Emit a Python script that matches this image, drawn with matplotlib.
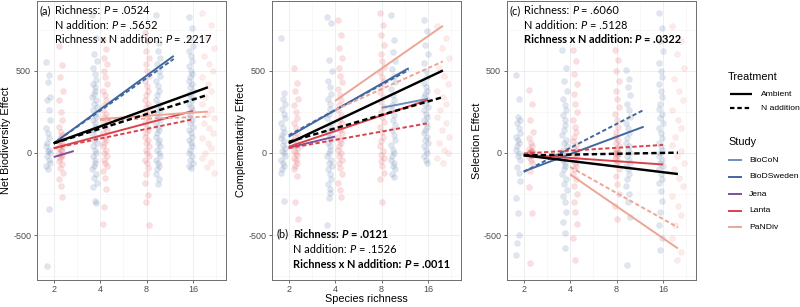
import matplotlib
matplotlib.use('Agg')
import matplotlib.pyplot as plt
from matplotlib.lines import Line2D
from matplotlib.colors import to_rgba

plt.rcParams['axes.unicode_minus'] = False
plt.rcParams['font.family'] = ['Liberation Sans', 'DejaVu Sans']

W, H = 800, 307
fig = plt.figure(figsize=(W / 100, H / 100), dpi=100)

# ---------------- data ----------------
studies = ['BioCoN', 'BioDSweden', 'Jena', 'Lanta', 'PaNDiv']
study_colors = {'BioCoN': '#6b8fc2', 'BioDSweden': '#41679f', 'Jena': '#7d4f9d',
                'Lanta': '#d9424b', 'PaNDiv': '#eda596', 'All': '#000000'}
treatments = ['Ambient', 'N addition']
richness_ticks = [2, 4, 8, 16]
y_ticks = [-500, 0, 500]

# column centres of the jittered point clouds (species richness, by colour group)
blue_pos = [1.84, 3.68, 9.5, 15.5]
red_pos = [2.22, 4.3, 8.05, 20.0]

# Net biodiversity effect points
nbe_blue = {
    2: [555, 475, 433, 342, 323, 262, 200, 150, 120, 90, 60, 40, 20, 10, 0, -20, -40, -60, -80, -100, -340, -690],
    4: [840, 700, 600, 560, 520, 480, 445, 420, 400, 380, 360, 340, 320, 300, 280, 260, 240, 220, 200, 180, 160,
        140, 120, 100, 80, 60, 40, 20, 0, -20, -40, -60, -80, -100, -130, -150, -180, -210, -290, -305],
    8: [840, 670, 620, 580, 540, 500, 470, 440, 410, 380, 350, 320, 300, 280, 260, 240, 220, 200, 180, 160, 140,
        120, 100, 80, 60, 40, 20, 0, -20, -40, -60, -80, -100, -130, -160, -190],
    16: [830, 760, 700, 650, 620, 590, 560, 530, 500, 480, 460, 440, 420, 400, 380, 360, 340, 320, 300, 280, 260,
         240, 220, 200, 180, 160, 140, 120, 100, 80, 60, 40, 20, 0, -20, -40, -60, -80, -92],
}
nbe_red = {
    2: [650, 537, 464, 380, 323, 250, 200, 160, 130, 110, 90, 70, 60, 50, 40, 30, 20, 10, 0, -10, -20, -30, -50,
        -70, -90, -120, -160, -200, -268],
    4: [690, 630, 580, 540, 500, 460, 420, 380, 350, 320, 290, 260, 240, 220, 200, 180, 160, 140, 120, 100, 80, 60,
        40, 20, 0, -20, -40, -60, -80, -110, -150, -220, -330, -433],
    8: [730, 680, 620, 580, 540, 500, 470, 440, 410, 380, 350, 320, 300, 280, 260, 240, 220, 200, 180, 160, 140,
        120, 100, 80, 60, 40, 20, 0, -20, -40, -60, -90, -130, -180, -256, -300, -440],
    16: [850, 780, 700, 640, 590, 540, 500, 460, 420, 380, 340, 300, 270, 240, 210, 180, 150, 120, 90, 60, 30, 0,
         -30, -55, -85, -120],
}
# Complementarity effect points
ce_blue = {
    2: [700, 365, 330, 300, 270, 240, 210, 180, 150, 130, 110, 90, 70, 50, 30, 10, 0, -20, -40, -60, -80, -100,
        -122, -290],
    4: [830, 790, 567, 500, 440, 400, 360, 330, 300, 270, 240, 210, 180, 160, 140, 120, 100, 80, 60, 40, 20, 0,
        -20, -40, -60, -80, -100, -130, -160, -190, -220, -244, -275, -440],
    8: [840, 690, 616, 560, 510, 470, 430, 390, 350, 320, 290, 260, 230, 200, 170, 140, 110, 80, 50, 20, 0, -20,
        -40, -60, -80, -100, -125, -146],
    16: [810, 740, 660, 600, 550, 500, 460, 427, 400, 380, 360, 340, 320, 300, 280, 260, 240, 220, 200, 180, 160,
         140, 120, 100, 80, 60, 40, 20, 0, -20, -40, -60],
}
ce_red = {
    2: [518, 427, 380, 330, 290, 250, 210, 180, 150, 120, 100, 80, 60, 45, 30, 15, 0, -15, -30, -45, -60, -80,
        -100, -140, -300, -400],
    4: [810, 720, 640, 580, 520, 470, 430, 390, 350, 320, 290, 260, 230, 200, 180, 160, 140, 120, 100, 80, 60, 40,
        20, 0, -20, -40, -60, -90, -130, -180, -225, -270],
    8: [850, 780, 720, 660, 600, 560, 525, 490, 460, 430, 400, 370, 340, 310, 280, 250, 220, 190, 160, 130, 100,
        70, 40, 10, -10, -30, -50, -80, -120, -160, -300],
    16: [770, 700, 640, 580, 520, 470, 420, 380, 340, 300, 260, 220, 180, 140, 100, 60, 20, 0, -30, -60],
}
# Selection effect points
se_blue = {
    2: [475, 330, 220, 200, 180, 150, 120, 100, 80, 60, 40, 20, 0, -20, -43, -85, -120, -170, -275, -366, -500,
        -547, -622],
    4: [628, 520, 440, 380, 330, 290, 262, 230, 200, 170, 140, 110, 80, 60, 40, 20, 0, -20, -40, -60, -80, -100,
        -130, -160, -190, -226, -260, -300, -360, -420, -488, -580],
    8: [506, 450, 400, 350, 300, 260, 220, 180, 150, 120, 90, 60, 40, 20, 0, -20, -40, -60, -80, -100, -130, -160,
        -200, -250, -300, -390, -683],
    16: [854, 760, 680, 620, 549, 500, 460, 420, 380, 340, 300, 270, 240, 210, 180, 150, 120, 90, 60, 40, 20, 0,
         -20, -40, -60, -80, -100, -130, -160, -183, -230, -290, -360, -440, -520, -592],
}
se_red = {
    2: [384, 300, 200, 128, 90, 60, 40, 25, 15, 10, 5, 0, 0, 0, 0, -5, -10, -15, -25, -40, -60, -110, -207, -366,
        -670],
    4: [628, 560, 480, 420, 360, 300, 250, 200, 160, 130, 100, 75, 50, 30, 10, 0, -10, -25, -40, -60, -80, -100,
        -130, -160, -200, -250, -300, -360, -430, -520, -650],
    8: [628, 567, 500, 440, 380, 330, 280, 240, 200, 160, 130, 100, 80, 60, 40, 25, 10, 0, 0, 0, -10, -20, -35,
        -50, -70, -100, -140, -190, -250, -320, -400],
    16: [770, 680, 600, 520, 450, 380, 320, 260, 200, 150, 100, 50, 10, -20, -60, -100, -150, -200, -260, -320,
         -380, -440, -520, -600, -650],
}

# fitted lines: (study, treatment, richness start, richness end, fitted start, fitted end)
nbe_fits = [
    ('BioDSweden', 'Ambient', 2, 12, 59, 591),
    ('BioDSweden', 'N addition', 2, 12, 59, 572),
    ('Jena', 'Ambient', 2, 2.7, -25, 12),
    ('Lanta', 'Ambient', 2, 16, 29, 256),
    ('Lanta', 'N addition', 2, 16, 29, 205),
    ('PaNDiv', 'Ambient', 4, 20, 207, 252),
    ('PaNDiv', 'N addition', 4, 20, 200, 221),
    ('All', 'Ambient', 2, 20, 59, 400),
    ('All', 'N addition', 2, 20, 59, 354),
]
ce_fits = [
    ('BioCoN', 'Ambient', 8, 16, 275, 330),
    ('BioDSweden', 'Ambient', 2, 12, 99, 516),
    ('BioDSweden', 'N addition', 2, 12, 108, 505),
    ('Jena', 'Ambient', 2, 4, 32, 100),
    ('Lanta', 'Ambient', 2, 16, 38, 323),
    ('Lanta', 'N addition', 2, 16, 29, 181),
    ('PaNDiv', 'Ambient', 4, 20, 317, 774),
    ('PaNDiv', 'N addition', 4, 20, 262, 557),
    ('All', 'Ambient', 2, 20, 59, 502),
    ('All', 'N addition', 2, 20, 68, 340),
]
se_fits = [
    ('BioDSweden', 'Ambient', 2, 12, -112, 160),
    ('BioDSweden', 'N addition', 2, 12, -115, 262),
    ('Lanta', 'Ambient', 2, 16, -10, -70),
    ('Lanta', 'N addition', 2, 16, -3, 49),
    ('PaNDiv', 'Ambient', 4, 20, -130, -581),
    ('PaNDiv', 'N addition', 4, 20, -85, -453),
    ('All', 'Ambient', 2, 20, -14, -128),
    ('All', 'N addition', 2, 20, -15, 2),
]

ylabels = ['Net Biodiversity Effect', 'Complementarity Effect', 'Selection Effect']

# ---------------- styling ----------------
pt_blue = '#4b6fa5'
pt_red = '#e5474d'
pt_light = '#ee8a80'
jitter = [-0.045, 0.025, -0.01, 0.045, -0.03, 0.01, 0.035, -0.04, 0.0, 0.02, -0.02]

panel_left_px = [36.7, 271.7, 506.7]
panel_w_px = 189.0
panel_top_px, panel_bot_px = 1.0, 280.0
xlim = (2 ** 0.634, 2 ** 4.705)
ylim = (-773, 925)


def px2fig(x, y):
    return x / W, 1 - y / H


def draw_points(ax, pts, positions, colors, spreads):
    for (lvl, vals), pos, col, spr in zip(pts.items(), positions, colors, spreads):
        xs = [pos * 2 ** (jitter[i % len(jitter)] * spr) for i in range(len(vals))]
        ax.scatter(xs, vals, s=18, facecolor=to_rgba(col, 0.17), edgecolor=to_rgba(col, 0.10),
                   linewidth=0.5, zorder=2)


def draw_fits(ax, fits):
    order = studies + ['All']
    for st in order:
        for (s, tr, x0, x1, y0, y1) in fits:
            if s != st:
                continue
            lw = 1.75 if s == 'All' else 1.4
            ls = '-' if tr == 'Ambient' else (0, (2.2, 1.3))
            ax.plot([x0, x1], [y0, y1], color=study_colors[s], lw=lw, ls=ls,
                    solid_capstyle='butt', dash_capstyle='butt', zorder=3)


axes = []
panel_data = [(nbe_blue, nbe_red, nbe_fits), (ce_blue, ce_red, ce_fits), (se_blue, se_red, se_fits)]
for i, (blue, red, fits) in enumerate(panel_data):
    l, b = px2fig(panel_left_px[i], panel_bot_px)
    ax = fig.add_axes([l, b, panel_w_px / W, (panel_bot_px - panel_top_px) / H])
    ax.set_xscale('log', base=2)
    ax.set_xlim(*xlim)
    ax.set_ylim(*ylim)
    ax.set_xticks(richness_ticks)
    ax.set_xticklabels([str(t) for t in richness_ticks])
    ax.set_xticks([2 ** 1.5, 2 ** 2.5, 2 ** 3.5, 2 ** 4.5], minor=True)
    ax.set_yticks(y_ticks)
    ax.set_yticklabels([str(t) for t in y_ticks])
    ax.set_yticks([-750, -250, 250, 750], minor=True)
    ax.xaxis.set_minor_formatter(plt.NullFormatter())
    ax.grid(True, which='major', color='#ebebeb', lw=0.6, zorder=0)
    ax.grid(True, which='minor', color='#f4f4f4', lw=0.45, zorder=0)
    ax.set_axisbelow(True)
    ax.tick_params(which='major', length=2.0, width=0.5, color='#333333', labelsize=6.5,
                   labelcolor='#4d4d4d')
    ax.tick_params(axis='x', pad=1.6)
    ax.tick_params(axis='y', pad=2.0)
    ax.tick_params(which='minor', length=0)
    for sp in ax.spines.values():
        sp.set_color('#6e6e6e')
        sp.set_linewidth(0.7)
    draw_points(ax, blue, blue_pos, [pt_blue] * 4, [1, 1, 1, 1])
    draw_points(ax, red, red_pos, [pt_red, pt_red, pt_red, pt_light], [1, 1, 1, 3])
    draw_fits(ax, fits)
    axes.append(ax)

# axis titles
for i, lab in enumerate(ylabels):
    cx = [6.5, 241.5, 477.0][i]
    x, y = px2fig(cx, 140.5)
    fig.text(x, y, lab, rotation=90, ha='center', va='center', fontsize=7.8, color='black')
x, y = px2fig(366, 298.5)
fig.text(x, y, 'Species richness', ha='center', va='center', fontsize=7.8, color='black')

# ---------------- annotations ----------------
renderer = fig.canvas.get_renderer()
ann_font = ['Lato', 'DejaVu Sans']


def text_w(s, size, weight, style):
    t = fig.text(0, 0, s, fontsize=size, fontweight=weight, fontstyle=style, family=ann_font)
    w = t.get_window_extent(renderer).width
    t.remove()
    return w


def space_w(size, weight):
    return text_w('a a', size, weight, 'normal') - text_w('aa', size, weight, 'normal')


def rich(x_px, y_px, segs, size, draw=True):
    x = x_px
    for s, weight, style in segs:
        lead = len(s) - len(s.lstrip(' '))
        trail = len(s) - len(s.rstrip(' '))
        core = s.strip(' ')
        sw = space_w(size, weight)
        x += lead * sw
        if draw:
            fx, fy = px2fig(x, y_px)
            fig.text(fx, fy, core, fontsize=size, fontweight=weight, fontstyle=style,
                     family=ann_font, ha='left', va='baseline', color='black')
        x += text_w(core, size, weight, style)
        x += trail * sw
    return x - x_px


def pline(label, pval, bold):
    w = 'bold' if bold else 'normal'
    return [(label + ': ', w, 'normal'), ('P', w, 'italic'), (' = ' + pval, w, 'normal')]


ref = pline('Richness x N addition', '.2217', False)
ann_size = 10 * 156.0 / rich(0, 0, ref, 10, draw=False)

annotations = [
    ('(a)', 39.3, 55.0, [14.0, 28.6, 43.2],
     [('Richness', '.0524', False), ('N addition', '.5652', False), ('Richness x N addition', '.2217', False)]),
    ('(b)', 276.7, 293.3, [237.7, 252.7, 267.7],
     [('Richness', '.0121', True), ('N addition', '.1526', False), ('Richness x N addition', '.0011', True)]),
    ('(c)', 509.0, 524.0, [14.0, 28.6, 43.2],
     [('Richness', '.6060', False), ('N addition', '.5128', False), ('Richness x N addition', '.0322', True)]),
]
for tag, tx, lx, ys, lines in annotations:
    rich(tx, ys[0], [(tag, 'normal', 'normal')], ann_size)
    for (lab, pv, bold), yb in zip(lines, ys):
        rich(lx, yb, pline(lab, pv, bold), ann_size)

# ---------------- legend ----------------
def leg_line(x0, x1, y, color, ls, lw):
    fx0, fy = px2fig(x0, y)
    fx1, _ = px2fig(x1, y)
    fig.add_artist(Line2D([fx0, fx1], [fy, fy], transform=fig.transFigure, color=color,
                          ls=ls, lw=lw, solid_capstyle='butt', dash_capstyle='butt'))


x, y = px2fig(728, 77)
fig.text(x, y, 'Treatment', ha='left', va='center', fontsize=7.8)
for tr, yy in zip(treatments, [94.0, 108.3]):
    leg_line(730, 752, yy, 'black', '-' if tr == 'Ambient' else (0, (2.0, 1.3)), 1.6)
    x, y = px2fig(760.7, yy)
    fig.text(x, y, tr, ha='left', va='center', fontsize=6.1)

x, y = px2fig(728, 141.7)
fig.text(x, y, 'Study', ha='left', va='center', fontsize=7.8)
for st, yy in zip(studies, [160.0, 176.7, 194.0, 210.7, 227.3]):
    leg_line(728.3, 742.3, yy, study_colors[st], '-', 1.4)
    x, y = px2fig(749.3, yy)
    fig.text(x, y, st, ha='left', va='center', fontsize=6.1)

fig.savefig('out.png', dpi=100)
